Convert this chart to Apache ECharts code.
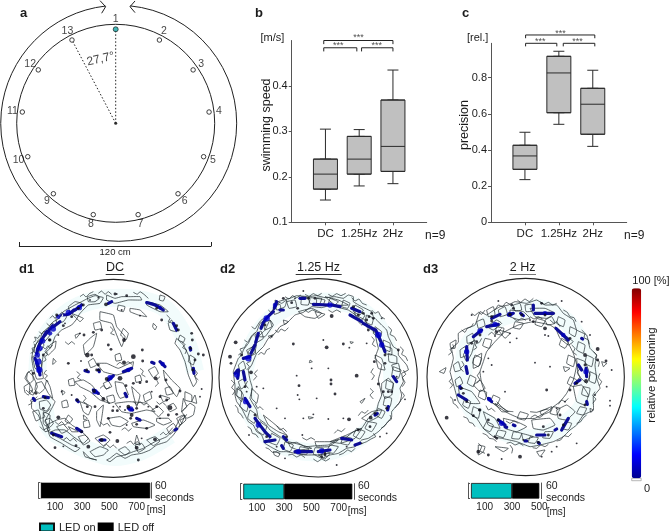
<!DOCTYPE html>
<html><head><meta charset="utf-8">
<style>html,body{margin:0;padding:0;background:#fff}#c{width:670px;height:531px}</style>
<script src="https://cdn.jsdelivr.net/npm/echarts@6/dist/echarts.min.js"></script>
</head><body><div id="c"></div>
<script>
// ---------- panel a ----------
const stimLabels = ['1','2','3','4','5','6','7','8','9','10','11','12','13'];
const stimAngles = [0,27.7,55.4,83.1,110.8,138.5,166.2,193.8,221.5,249.2,276.9,304.6,332.3];
const stimRadius = 57, labelRadius = 63, innerRadius = 60, outerRadius = 71.5;
const leftArrow = [[75.2,351.35],[71.1,353.6],[67.5,351.2]];
const rightArrow = [[74.8,7.6],[71,5.55],[67.8,8.4]];
const outerArc = [outerRadius,5.55,353.6];
// ---------- panels b, c ----------
const boxCats = ['','DC','1.25Hz','2Hz',''];
const speed = {DC:[0.149,0.173,0.206,0.239,0.305], f125:[0.18,0.206,0.239,0.289,0.304], f2:[0.185,0.212,0.267,0.369,0.435]};
const precision = {DC:[0.236,0.293,0.367,0.426,0.498], f125:[0.542,0.606,0.826,0.918,0.946], f2:[0.42,0.487,0.653,0.741,0.841]};
const speedTicks = [0.1,0.2,0.3,0.4];
const precisionTicks = [0,0.2,0.4,0.6,0.8];
const speedBrackets = [[0.95,3,0.5,0.492],[0.95,1.93,0.484,0.476],[2.07,3,0.484,0.476]];
const speedStars = [[1.98,0.506],[1.38,0.489],[2.52,0.489]];
const precisionBrackets = [[1.02,3.06,1.036,1.018],[1.02,1.94,0.99,0.973],[2.13,3.06,0.99,0.973]];
const precisionStars = [[2.05,1.045],[1.45,0.998],[2.55,0.998]];
// ---------- LED strips ----------
const ledOn = [0,300,300], ledOff = [800,500,200], stripMax = [800,800,500];
const stripTicks = [[100,300,500,700],[100,300,500,700],[100,300,500]];
// ---------- heat maps (tank positions) ----------
const disc1 = [340,370,297], disc2 = [309.5,368.5,297.5], disc3 = [287,366,296];
const d1Halo = [[112,350,118,290,140,240,180,190,240,150,320,130,430,135,500,165,560,260,585,350],[130,430,150,520,230,570,330,605,420,590,510,540]];
const d2Halo = [[85,380,100,300,150,210,220,155,310,140,410,150,490,215,525,310,530,400,500,480,430,550,340,590,240,585,160,545,105,470,85,380]];
const d3Halo = [[100,370,110,280,170,210,250,175,330,160,410,200,460,280,480,360,460,450,400,510,310,550,220,530,140,480,105,420,100,370]];
const d1Contours = [
[100,340,95,310,100,285,115,255,128,248,140,225,160,200,175,192,190,170,225,150,245,140,260,132,285,122,310,128,300,145,265,150,240,175,228,195,215,210,185,225,165,245,158,265,150,280,130,300,125,340,130,370,110,372,100,340],
[90,390,75,370,85,350,100,365,112,395,100,420,88,415,90,390],
[95,440,120,430,150,425,165,440,150,470,135,500,150,525,135,530,115,480,95,460,95,440],
[140,375,150,395,158,430,145,415,135,395,140,375],[160,310,168,320,158,328,160,310],
[140,510,170,495,195,490,215,510,240,525,265,550,250,565,220,545,195,525,165,525,150,535,180,550,215,570,240,580,225,590,185,565,150,545,140,510],
[270,590,300,575,325,585,310,600,285,605,270,590],[250,590,270,610,290,615,255,605,250,590],
[330,610,350,595,375,610,395,600,425,595,450,585,470,570,500,560,520,540,545,505,555,480,540,490,525,520,500,545,465,560,430,580,400,590,375,600,350,605,330,620,320,615,330,610],
[545,470,570,445,585,455,580,480,560,490,545,470],[470,490,505,490,515,500,490,510,470,500,470,490],
[395,505,430,495,465,510,440,520,400,515,395,505],[325,490,360,485,385,500,360,515,335,510,325,490],
[290,470,310,450,305,490,300,515,290,495,290,470],[240,440,275,455,265,480,250,470,240,440],
[225,380,250,375,275,390,295,415,310,430,330,445,300,435,270,410,240,395,225,380],
[345,380,370,385,385,420,360,430,350,410,345,380],[395,395,420,420,410,455,400,420,395,395],
[345,445,385,440,440,445,465,470,440,465,395,475,365,470,345,445],
[490,345,515,375,540,400,530,425,510,400,495,375,490,345],[480,420,510,430,490,440,480,420],
[530,250,550,270,565,300,575,340,590,380,580,395,565,360,555,320,540,285,525,265,530,250],
[515,195,530,230,510,225,505,205,515,195],[390,160,420,165,440,185,415,180,390,170,390,160],
[300,170,340,180,350,215,375,245,365,275,350,240,335,205,300,195,300,170],
[250,270,270,250,290,235,280,275,255,300,250,270],[290,325,320,325,355,340,400,320,395,345,350,360,310,350,290,325],
[215,175,250,190,240,200,215,175],[225,240,240,235,228,250,225,240],
[320,120,345,130,365,125,390,125,420,125,425,135,385,135,345,145,320,135,320,120],
[440,140,480,150,505,170,480,170,440,150,440,140],[460,205,470,215,465,225,458,215,460,205],
[575,440,585,420,590,445,575,440],[550,430,560,455,545,470,550,430],[185,405,195,412,188,420,185,405],
[130,470,150,480,145,520,130,505,130,470],[205,515,235,530,215,530,205,515],[410,540,420,570,405,565,410,540],[250,480,262,490,252,495,250,480],
[168,190,185,172,200,185,190,200,170,205,168,190],[205,155,225,140,245,145,232,165,210,172,205,155],[262,125,285,118,300,128,285,140,265,140,262,125],[125,235,145,218,150,240,135,258,122,255,125,235],[105,270,120,255,132,270,115,295,103,292,105,270],[135,290,150,270,168,258,165,280,145,300,135,290],[98,305,112,300,125,322,122,345,105,340,98,305],[82,355,95,345,100,375,90,385,80,372,82,355],[72,395,88,385,98,405,85,420,75,412,72,395],[108,385,125,380,135,400,118,415,105,405,108,385],[118,440,140,435,152,450,140,468,120,462,118,440],[98,470,115,465,122,490,108,498,98,470],[135,495,150,490,160,505,148,518,135,495],[205,480,218,492,208,505,195,498,205,480],[170,515,190,508,205,525,185,535,170,515],[235,545,255,540,270,558,250,570,235,545],[285,550,310,540,330,555,310,572,285,550],[355,585,375,575,390,590,375,600,355,585],[405,570,425,565,435,580,415,592,405,570],[440,555,465,545,480,558,460,572,440,555],[500,520,520,505,530,520,510,538,500,520],[530,490,550,480,558,495,540,510,530,490],[455,465,475,455,490,470,475,485,455,465],[500,455,520,445,530,460,510,470,500,455],[430,420,450,410,455,430,435,440,430,420],[495,400,510,395,520,415,500,420,495,400],[445,345,465,335,475,355,460,368,445,345],[405,365,420,360,425,378,408,382,405,365],[310,385,325,378,335,395,318,402,310,385],[265,320,280,310,290,330,272,338,265,320],[345,300,360,295,365,315,348,318,345,300],[370,220,385,235,378,255,362,240,370,220],[280,205,300,200,305,220,285,225,280,205],[355,150,375,155,370,170,352,165,355,150],[480,120,495,125,490,138,478,135,480,120],[540,240,555,250,550,262,535,255,540,240],[570,300,585,310,580,330,565,320,570,300],[555,410,575,420,575,440,555,435,555,410],[205,375,220,370,225,390,208,392,205,375],[185,440,200,435,205,455,188,458,185,440],[250,500,265,495,270,515,252,518,250,500],[320,425,340,420,345,440,325,445,320,425],
[150,190,158,182,165,190,172,180,180,186,188,176],[140,205,148,212,156,204,165,210,172,202],[118,230,126,238,132,228,140,236,148,226],[100,262,108,256,104,246,114,250,120,240],[92,295,100,290,96,280,106,276,102,266],[128,275,136,282,144,272,150,280,158,270],[130,320,138,315,134,305,142,300,140,290],[140,345,132,355,142,362,134,372,145,380],[78,405,86,412,94,405,100,415,108,408],[85,450,95,445,92,435,104,432,112,425],[125,490,135,485,130,475,142,470,150,460],[165,500,175,508,185,500,195,510,205,502],[190,555,200,548,210,558,220,550,230,560],[120,515,130,525,140,520,148,532,158,528],[310,575,320,568,330,578,340,570,350,580],[380,565,392,558,400,568,412,560,422,570],[480,540,490,532,498,540,508,530,518,518],[535,515,545,505,540,495,552,490,560,478],[240,125,250,118,258,126,268,116,280,110],[295,115,305,108,315,118,325,110,335,118],[400,112,412,118,420,110,432,118,445,130],[500,180,510,190,505,200,518,205,525,218],[545,260,555,268,548,278,560,285,555,297],[585,345,592,355,585,365,595,375],[350,330,360,322,372,330,384,320,396,328],[300,400,310,392,320,402,330,395],[400,440,410,448,420,440,432,450,442,442],[470,440,478,448,488,442,498,452],[300,500,310,510,322,505,330,515],[365,525,375,518,385,528,395,520],[230,350,240,358,232,368,244,375],[250,420,258,430,250,440,262,448],[420,340,430,348,425,358,436,365],[465,395,475,385,470,375,480,365],[195,260,205,268,215,260,225,268],[330,215,340,225,332,235,344,240]
];
const d1Strokes = [[245,150,225,165],[222,165,205,178,185,180],[180,200,160,215],[158,212,135,240],[140,230,120,265,110,295],[125,255,112,285],[105,310,115,335,120,360],[110,325,118,350],[440,143,465,150,490,165],[325,375,340,362],[370,350,395,340],[455,322,462,325],[480,320,495,335],[280,405,295,415],[375,415,380,425],[130,425,145,428],[100,430,104,436],[385,460,398,465],[230,520,245,530],[155,535,185,545],[300,555,315,555],[580,340,582,355],[570,278,572,285],[520,205,530,225],[325,145,335,140],[410,490,420,495],[525,525,530,522],[230,435,235,440],[255,347,265,350],[295,345,298,350]];
const d1Hot = [[205,172,6],[128,258,6],[115,320,7],[160,222,6],[330,368,6],[385,345,5],[285,410,6],[392,462,6],[238,158,6],[150,235,5],[120,280,6],[112,300,6],[118,345,7],[175,185,5],[480,158,4],[488,327,5]];
const d1Dots = [[345,117,3],[295,128,2],[235,160,3],[170,180,3],[190,212,3],[252,240,3],[280,232,3],[305,225,3],[372,255,4],[325,270,3],[333,283,3],[427,285,3],[400,305,5],[262,300,5],[243,318,2],[275,300,3],[295,330,3],[428,318,3],[372,322,4],[320,372,4],[360,370,5],[420,383,3],[440,380,3],[400,385,3],[467,370,4],[205,325,3],[260,345,3],[298,345,3],[378,392,3],[498,375,3],[540,408,3],[605,402,2],[600,425,2],[575,235,3],[577,255,3],[572,280,3],[595,297,3],[610,300,3],[585,315,3],[510,458,5],[480,425,3],[262,455,3],[285,455,3],[310,432,4],[340,455,2],[338,467,3],[352,467,3],[325,490,3],[375,465,2],[392,490,3],[410,508,3],[380,510,2],[505,480,3],[530,478,3],[465,553,4],[440,520,3],[330,532,3],[352,558,4],[265,575,4],[228,572,3],[190,574,2],[165,578,3],[410,578,4],[415,615,3],[425,550,2],[175,487,4],[130,460,3],[185,410,2],[215,420,2],[232,435,3],[350,117,2],[380,122,3],[318,148,4],[365,165,2],[485,195,3],[535,225,3],[130,300,3],[100,355,3],[420,182,2],[500,435,3],[455,410,2],[470,455,3],[385,455,4],[395,480,4],[305,555,4],[360,455,2],[410,460,3],[445,455,2],[480,490,2],[282,408,4],[290,345,3],[240,235,2],[150,255,3],[175,240,2],[215,185,3],[195,205,2],[135,428,3],[148,255,3],[108,415,3],[160,540,3],[245,530,3],[470,160,3],[530,212,3],[578,345,3],[250,150,3],[270,135,2]];
const d2Contours = [
[60,390,55,350,70,310,80,300,85,285,100,265,110,245,125,230,135,205,150,195,165,175,180,160,190,140,225,130,245,122,280,125,305,122,330,128,360,125,385,130,400,120,415,125,415,140,440,155,470,170,475,185,500,210,515,225,520,245,535,275,550,285,550,300,575,330,580,345,560,355,565,380,555,400,560,420,555,440,530,470,530,485,520,500,490,530,460,550,440,555,420,575,395,580,370,595,345,600,320,610,300,600,270,600,240,595,215,590,195,590,175,580,150,565,140,540,125,530,115,510,100,500,90,480,80,460,65,440,60,420,60,390],
[105,375,100,345,110,330,125,295,145,275,160,250,180,235,195,215,215,205,240,180,265,172,290,155,320,158,350,150,380,160,400,165,425,182,450,195,460,215,480,235,485,260,490,280,480,310,500,330,495,355,490,375,500,420,490,445,485,465,460,490,440,520,415,530,390,550,365,555,340,570,305,572,270,575,245,562,220,565,195,545,165,525,150,505,130,490,125,465,105,430,112,400,105,375],
[70,395,85,420,80,440,65,420,70,395],[110,400,130,420,125,445,110,430,110,400],[145,480,170,500,200,525,215,540,190,530,160,510,145,480],
[220,560,260,570,290,580,250,585,225,575,220,560],[300,560,345,560,370,555,340,575,305,575,300,560],[345,560,395,540,440,520,420,550,375,565,345,560],
[440,490,470,470,500,465,490,485,460,500,440,490],[500,385,520,370,535,385,530,420,510,430,500,405,500,385],[530,330,550,325,555,350,535,345,530,330],
[480,300,500,310,510,345,490,340,480,300],[500,270,530,280,530,300,510,295,500,270],[420,160,450,180,440,195,420,180,420,160],
[250,170,290,160,320,175,300,190,270,185,250,170],[130,245,150,225,165,195,175,210,150,245,130,245],[100,290,125,260,120,290,105,305,100,290],
[180,135,200,145,215,135,210,155,185,165,180,135],[330,125,370,135,400,150,360,150,330,125],[280,128,320,130,315,145,285,145,280,128],
[300,170,330,178,310,190,300,170],[205,195,220,200,208,208,205,195],[285,315,292,320,283,323,285,315],[280,485,295,488,282,492,280,485],[405,260,415,262,408,266,405,260],[435,440,450,430,440,445,435,440],[160,243,175,240,165,250,160,243],[175,590,195,595,190,605,178,600,175,590],[310,600,345,595,330,612,310,600],
[70,380,85,372,92,392,78,402,70,380],[70,330,85,318,92,340,75,348,70,330],[95,285,115,275,122,295,102,305,95,285],[120,240,138,228,145,250,125,262,120,240],[145,205,165,195,170,215,150,225,145,205],[175,155,195,148,198,170,178,178,175,155],[215,140,240,135,245,155,222,160,215,140],[260,125,285,130,280,150,258,148,260,125],[305,130,330,135,325,148,305,148,305,130],[345,130,370,140,360,150,340,148,345,130],[385,135,405,145,398,160,380,155,385,135],[420,150,445,165,435,180,415,170,420,150],[455,180,475,190,470,210,450,200,455,180],[480,215,500,230,495,250,475,235,480,215],[505,255,525,265,525,290,505,280,505,255],[520,295,545,305,545,325,522,320,520,295],[535,335,558,345,550,370,530,365,535,335],[515,375,535,385,530,405,512,400,515,375],[510,425,530,430,525,455,505,450,510,425],[490,460,510,470,500,490,482,480,490,460],[460,500,485,505,470,530,450,520,460,500],[425,520,450,530,435,552,415,542,425,520],[385,545,410,550,400,570,378,565,385,545],[345,570,370,575,355,595,335,590,345,570],[300,578,325,580,320,600,295,598,300,578],[255,575,280,580,275,598,250,595,255,575],[210,560,235,570,225,590,205,582,210,560],[170,535,195,550,185,570,160,560,170,535],[135,500,155,515,145,540,125,525,135,500],[105,465,125,480,118,505,98,490,105,465],[80,430,100,445,95,470,75,455,80,430],[65,400,80,410,78,430,62,420,65,400],
[70,300,80,292,75,282,88,278,95,265],[88,255,98,262,105,250,112,240,122,232],[110,215,120,222,128,210,136,198,146,190],[160,165,168,172,176,160,186,150,194,142],[210,125,222,132,232,122,245,128,258,120],[270,118,282,124,295,116,308,122,320,115],[340,118,352,124,365,116,378,122,392,115],[410,128,420,138,432,132,442,145,455,150],[470,165,480,175,490,170,498,185,510,192],[520,215,530,225,525,238,538,245,545,258],[555,275,565,285,560,298,572,305,578,318],[565,345,572,358,562,368,570,382,562,395],[560,410,568,422,558,435,550,448,540,458],[525,480,530,492,518,500,510,512,498,520],[475,535,482,545,468,552,455,560,442,565],[420,580,410,590,398,585,385,595,372,600],[345,610,332,618,320,612,308,620,295,612],[270,608,258,600,245,606,232,598,220,600],[195,598,185,590,172,592,162,582,152,578],[130,548,122,538,112,535,108,522,98,515],[85,490,78,478,70,472,68,460,60,450],[52,420,60,408,50,398,58,385,48,375],[95,345,103,335,95,325,108,318,102,308],[115,375,125,365,118,355,128,345],[130,300,138,292,148,298,155,285,165,280],[180,225,190,232,198,222,210,228,220,218],[270,165,280,172,292,165,305,170],[340,165,352,172,365,165,378,172],[430,200,440,210,450,205,458,220],[470,245,478,255,472,268,482,275],[475,340,468,352,478,362,470,375],[465,400,475,410,465,420,475,432],[460,465,450,475,440,470,430,482],[390,520,380,530,368,525,358,535],[300,555,288,548,275,555,262,548],[215,530,205,520,195,525,185,512],[145,465,135,455,128,460,120,445],[100,400,92,390,98,378]
];
const d2Strokes = [[60,355,70,345,68,370],[85,310,105,305],[108,295,120,270],[122,262,130,235],[138,220,150,195,175,170],[178,160,185,140],[255,130,270,130],[295,148,340,150],[350,150,375,155],[410,160,435,170],[405,180,440,200],[445,205,480,225],[482,225,500,265,510,290],[535,365,545,380],[520,455,518,465],[480,480,487,476],[380,550,410,555],[420,570,435,565],[310,590,345,585],[240,590,290,590],[205,580,200,572],[150,560,180,555],[120,490,150,530,165,545],[90,430,105,455],[85,350,90,375],[195,165,205,165],[205,545,215,555]];
const d2Hot = [[100,310,7],[155,190,7],[490,240,7],[345,150,6],[250,590,6],[130,510,6],[500,270,6],[180,150,5],[92,440,6],[65,360,6],[320,588,6]];
const d2Dots = [[62,262,4],[45,305,4],[48,325,3],[108,352,4],[265,108,2],[205,130,3],[230,143,3],[248,160,3],[300,130,3],[350,183,4],[385,267,3],[335,277,4],[325,255,2],[235,267,3],[403,278,2],[425,362,4],[245,362,2],[252,392,3],[348,375,3],[348,387,3],[360,417,3],[305,430,2],[253,433,2],[248,420,2],[402,493,4],[295,478,2],[265,490,2],[210,490,2],[470,175,3],[455,195,3],[460,225,3],[455,265,2],[500,190,2],[550,285,3],[510,325,3],[478,320,3],[490,387,3],[505,410,3],[520,410,3],[530,410,3],[570,433,2],[467,488,4],[495,545,2],[515,535,2],[430,525,3],[465,515,3],[385,490,2],[340,492,2],[125,395,2],[145,400,2],[102,540,2],[215,545,3],[262,540,2],[365,630,2],[210,610,2],[440,565,2],[320,605,3],[330,600,3],[185,460,2],[170,245,2],[290,340,2],[340,340,2],[415,155,3],[430,180,3],[475,190,3],[515,460,3],[480,475,3],[330,595,3],[280,130,3],[90,395,3],[95,410,2],[240,130,2],[445,175,3],[462,185,3],[510,300,3],[545,365,2],[120,480,3],[155,545,3],[185,575,2],[395,575,2],[80,300,3],[150,210,3]];
const d3Contours = [
[60,350,70,310,65,280,85,262,85,235,105,222,135,210,150,170,170,180,185,170,210,155,235,150,255,140,290,145,320,135,345,150,380,150,400,175,430,195,440,225,470,240,480,280,500,300,495,330,500,370,510,400,490,425,490,465,460,480,440,510,420,525,400,545,370,560,330,570,300,575,260,560,215,550,190,545,160,520,140,490,105,465,85,440,75,405,60,350],
[160,320,170,290,195,260,225,230,265,210,310,200,360,210,395,235,415,265,430,295,440,330,430,375,410,415,390,440,350,470,315,490,270,490,235,475,195,450,170,425,155,385,150,350,160,320],
[100,300,115,270,135,255,125,295,110,320,100,300],[130,310,155,295,150,330,130,340,130,310],[170,215,200,195,215,205,190,225,170,215],
[240,165,280,170,300,190,270,195,240,185,240,165],[300,160,345,160,375,175,350,190,315,185,300,160],[375,215,410,245,430,260,415,270,390,250,375,215],
[440,310,465,320,480,360,470,385,445,360,440,310],[430,395,455,390,475,420,465,450,440,440,430,395],[380,465,410,450,435,470,410,495,385,490,380,465],
[305,495,360,490,375,510,340,525,310,520,305,495],[220,490,260,500,290,515,260,530,225,520,220,490],[160,470,195,490,210,520,175,510,160,470],
[85,395,125,410,150,445,120,445,90,425,85,395],[130,390,150,375,165,400,150,410,130,390],[195,445,235,470,215,470,195,445],[330,470,365,455,360,470,335,480,330,470],
[145,570,165,575,160,590,145,600,145,570],[195,575,235,580,220,590,195,575],[320,590,345,585,330,605,320,590],[60,265,78,255,75,280,62,278,60,265],[28,350,48,338,42,355,28,350],[480,460,490,465,482,472,480,460],[515,320,530,325,520,335,515,320],[275,535,310,545,280,555,275,535],[205,225,240,235,225,250,205,225],[400,335,420,340,405,350,400,335],
[75,375,90,365,98,385,80,395,75,375],[70,330,85,320,92,345,75,350,70,330],[90,285,105,275,110,300,92,308,90,285],[110,245,128,235,132,258,112,265,110,245],[140,200,160,192,165,212,145,220,140,200],[170,165,190,155,195,180,175,185,170,165],[205,165,225,155,232,178,210,185,205,165],[250,150,270,145,275,165,255,168,250,150],[285,150,305,148,308,168,288,170,285,150],[345,195,365,185,375,205,352,210,345,195],[385,185,405,195,400,215,380,205,385,185],[420,215,440,225,435,245,418,235,420,215],[445,260,465,270,460,295,440,285,445,260],[470,300,490,310,485,335,465,325,470,300],[480,350,500,360,495,385,478,378,480,350],[460,395,480,400,475,425,455,418,460,395],[450,455,470,460,460,480,440,475,450,455],[405,500,425,505,415,525,395,520,405,500],[345,530,370,530,360,550,338,548,345,530],[300,545,325,548,315,565,295,562,300,545],[250,530,275,535,268,552,245,550,250,530],[205,525,228,530,220,548,198,540,205,525],[170,500,190,510,180,530,160,520,170,500],[130,455,150,465,145,490,125,480,130,455],[105,430,122,440,115,460,98,450,105,430],[120,360,138,370,130,395,112,385,120,360],[135,300,155,310,145,335,128,325,135,300],[165,250,185,255,178,280,158,272,165,250],[200,215,222,220,215,240,195,235,200,215],[255,200,280,205,270,222,250,218,255,200],[320,190,345,198,335,215,315,208,320,190],[395,250,415,262,405,280,388,270,395,250],[415,300,435,310,430,335,410,325,415,300],[420,365,440,375,430,395,412,385,420,365],[370,455,390,460,380,480,360,475,370,455],[270,470,295,478,285,495,262,490,270,470],[190,420,210,430,200,450,182,440,190,420],[150,405,170,412,165,435,145,425,150,405],
[55,300,65,292,60,282,72,278,68,268],[95,225,105,232,112,220,124,215,130,205],[125,175,135,182,145,172,155,178,165,165],[195,165,205,150,218,155,228,142,240,148],[262,135,272,142,285,132,298,140,310,130],[330,140,342,148,355,142,368,150,380,145],[400,165,412,172,420,185,432,188,438,200],[455,225,465,235,462,248,475,255,478,268],[490,290,500,300,495,312,508,320,505,335],[510,355,505,368,515,380,508,392],[495,410,488,422,498,432,488,445],[470,480,460,488,452,500,440,505],[425,535,415,545,402,542,392,555,380,558],[355,568,345,575,332,570,320,580,308,578],[280,572,268,565,255,570,242,562,230,565],[200,560,190,552,178,550,170,540,158,535],[135,515,128,505,118,502,112,490,100,485],[85,460,78,450,70,445,68,432,60,425],[60,400,68,390,58,380,65,370],[100,350,92,340,102,330,95,318],[130,285,140,278,135,268,148,262,155,250],[175,240,185,232,195,240,205,230,215,220],[250,190,262,198,275,190,288,196],[300,185,312,192,325,185,338,192],[360,195,372,205,380,200,390,215],[425,270,435,280,430,292,440,300],[450,340,442,352,450,365,440,378],[415,430,405,440,395,435,385,448],[340,480,328,488,315,480,302,488],[265,505,252,498,240,505,228,498],[195,470,185,460,175,465,168,452],[150,350,142,362,150,375,140,385],[300,470,320,472,340,465,355,462],[200,440,215,455,230,468,250,470],[145,565,155,575,150,588,165,595],[240,570,248,582,245,595]
];
const d3Strokes = [[110,275,112,315],[108,335,112,355],[130,245,155,225],[170,215,205,208],[185,190,210,178],[235,180,250,175],[272,175,280,182],[310,150,310,165],[315,175,370,175],[378,220,415,255],[445,330,455,345],[468,340,470,365],[435,385,450,375],[470,440,472,448],[415,490,395,525],[375,525,380,522],[320,540,345,540],[325,563,328,565],[285,558,290,558],[250,510,255,512],[225,515,230,517],[205,495,225,510],[175,430,185,440],[85,420,110,435],[90,395,92,400],[455,250,458,252]];
const d3Hot = [[110,290,6],[150,228,6],[195,208,6],[345,175,5],[400,240,5],[468,350,6],[215,505,6],[240,178,6],[178,433,5]];
const d3Dots = [[205,138,2],[335,145,3],[395,138,2],[125,180,2],[185,198,3],[245,150,3],[240,178,4],[310,200,3],[345,220,4],[240,235,2],[345,240,2],[355,243,2],[195,243,2],[480,240,2],[503,282,4],[465,300,4],[503,315,3],[528,318,3],[545,345,2],[468,378,4],[530,395,2],[495,420,2],[540,437,2],[540,452,2],[50,488,4],[75,435,2],[130,482,3],[148,465,3],[175,495,3],[200,550,3],[145,590,4],[175,600,3],[215,612,2],[270,605,4],[335,605,2],[365,590,2],[380,575,2],[440,565,2],[325,562,3],[195,545,3],[350,405,3],[315,323,2],[360,335,2],[175,310,2],[110,440,3],[420,405,3],[465,330,3],[160,350,2],[185,330,2],[240,262,2],[260,250,2],[225,410,2],[455,200,2],[390,480,3],[405,440,2],[140,260,3],[150,240,3],[300,195,2],[380,460,2],[465,450,3],[185,185,3],[275,180,3],[100,415,3],[150,465,3],[205,495,3],[340,515,3],[400,510,3],[250,160,3],[345,180,3],[420,250,3],[440,385,3],[355,540,3],[280,555,2],[200,230,3],[125,265,3],[95,400,3]];
// ---------- colour bar ----------
const heatStops = ['#00008f','#0000ff','#0080ff','#00ffff','#80ff80','#ffff00','#ff8000','#ff0000','#800000'];

const FONT = '"Liberation Sans",Arial,sans-serif';
const DARK = '#1c1c1c', AX = '#555';
const BLUE = '#0d0d96';
function pairs(f){const o=[];for(let i=0;i<f.length;i+=2)o.push([f[i],f[i+1]]);return o;}

const grid = [
  {left:291.7,top:40.5,width:135,height:181.8},      // b
  {left:491,top:43.3,width:135.7,height:179},        // c
  {left:19.3,top:236,width:191.7,height:10},         // 120 cm bar
  {left:0,top:255,width:220,height:276},             // d1
  {left:215,top:255,width:220,height:276},           // d2
  {left:430,top:255,width:240,height:276},           // d3
  {left:41.4,top:482.7,width:108.8,height:15.6},
  {left:243.3,top:483.7,width:109,height:15.6},
  {left:471,top:483,width:68.3,height:15.6}
];
const catAxis=(g,vis)=>({type:'category',gridIndex:g,data:boxCats,boundaryGap:false,show:vis,
  axisLine:{onZero:false,lineStyle:{color:AX,width:1}},
  axisTick:{length:3,lineStyle:{color:AX},interval:(i,v)=>v!==''},
  axisLabel:{interval:0,color:DARK,fontFamily:FONT,fontSize:11.5,margin:6}});
const hidVal=(g,mn,mx)=>({type:'value',gridIndex:g,min:mn,max:mx,show:false});
const xAxis=[
  catAxis(0,true),catAxis(0,false),hidVal(0,0,4),
  catAxis(1,true),catAxis(1,false),hidVal(1,0,4),
  {type:'value',gridIndex:2,min:0,max:120,axisLine:{show:true,lineStyle:{color:'#222'}},
   axisTick:{show:true,inside:true,length:4,customValues:[0,120],lineStyle:{color:'#222'}},axisLabel:{show:false},splitLine:{show:false},
   name:'120 cm',nameLocation:'middle',nameGap:1,nameTextStyle:{color:DARK,fontFamily:FONT,fontSize:9.5,verticalAlign:'top'}},
  hidVal(3,0,660),hidVal(4,0,660),hidVal(5,0,720),
];
[0,1,2].forEach(i=>xAxis.push({type:'value',gridIndex:6+i,min:0,max:stripMax[i],
  axisLine:{show:false},axisTick:{show:false},splitLine:{show:false},
  axisLabel:{customValues:stripTicks[i],color:DARK,fontFamily:FONT,fontSize:10,margin:4,hideOverlap:false}}));
const yAxis=[
  {type:'value',gridIndex:0,min:0.1,max:0.5,axisLine:{show:true,lineStyle:{color:AX}},splitLine:{show:false},
   axisTick:{show:true,length:3,customValues:speedTicks,lineStyle:{color:AX}},
   axisLabel:{customValues:speedTicks,formatter:v=>v.toFixed(1),color:DARK,fontFamily:FONT,fontSize:11,margin:4}},
  {type:'value',gridIndex:1,min:0,max:0.99,axisLine:{show:true,lineStyle:{color:AX}},splitLine:{show:false},
   axisTick:{show:true,length:3,customValues:precisionTicks,lineStyle:{color:AX}},
   axisLabel:{customValues:precisionTicks,formatter:v=>v===0?'0':v.toFixed(1),color:DARK,fontFamily:FONT,fontSize:11,margin:4}},
  {type:'value',gridIndex:2,min:0,max:1,show:false},
  {type:'value',gridIndex:3,min:0,max:828,inverse:true,show:false},
  {type:'value',gridIndex:4,min:0,max:828,inverse:true,show:false},
  {type:'value',gridIndex:5,min:0,max:828,inverse:true,show:false},
];
[0,1,2].forEach(i=>yAxis.push({type:'category',gridIndex:6+i,data:['60 s'],
  axisLine:{show:true,onZero:false,lineStyle:{color:AX}},offset:3,
  axisTick:{show:true,length:2,inside:true,lineStyle:{color:AX}},axisLabel:{show:false}}));
[0,1,2].forEach(i=>yAxis.push({type:'category',gridIndex:6+i,position:'right',data:['60 s'],
  axisLine:{show:true,onZero:false,lineStyle:{color:AX}},offset:1.5,axisTick:{show:false},axisLabel:{show:false}}));

const series=[];
// ---- panel a ----
const arcRender=(params,api)=>{
  const cs=params.coordSys,k=cs.r/76;
  const a=api.value(1),b=api.value(2);
  return {type:'arc',silent:true,shape:{cx:cs.cx,cy:cs.cy,r:api.value(0)*k,startAngle:(a-90)*Math.PI/180,endAngle:(b-90)*Math.PI/180,clockwise:true},
    style:{fill:null,stroke:'#222',lineWidth:1}};
};
series.push({type:'custom',name:'inner wall',coordinateSystem:'polar',polarIndex:0,renderItem:arcRender,data:[[innerRadius,0,360]],encode:{radius:0,angle:1},silent:true});
series.push({type:'custom',name:'outer wall',coordinateSystem:'polar',polarIndex:1,renderItem:arcRender,data:[outerArc],encode:{radius:0,angle:1},silent:true});
[leftArrow,rightArrow].forEach(d=>series.push({type:'line',coordinateSystem:'polar',polarIndex:1,data:d,symbol:'none',clip:false,silent:true,lineStyle:{color:'#222',width:1}}));
[0,stimAngles[12]].forEach(a=>series.push({type:'line',coordinateSystem:'polar',polarIndex:0,data:[[0,a],[stimRadius,a]],symbol:'none',silent:true,lineStyle:{color:'#222',width:1,type:[1.5,2]}}));
series.push({type:'scatter',coordinateSystem:'polar',polarIndex:0,data:[[0,0]],symbolSize:3,itemStyle:{color:'#000'},silent:true});
series.push({type:'scatter',name:'stimuli',coordinateSystem:'polar',polarIndex:0,data:stimAngles.map((a,i)=>({value:[stimRadius,a],symbolSize:i===0?5:4.5,itemStyle:i===0?{color:'#16a5a5',borderColor:'#111',borderWidth:.8}:{color:'#fff',borderColor:'#111',borderWidth:1}})),silent:true,z:3});
series.push({type:'scatter',coordinateSystem:'polar',polarIndex:0,data:stimAngles.map(a=>[labelRadius,a]),symbolSize:0,silent:true,z:4,
  label:{show:true,position:'inside',formatter:p=>stimLabels[p.dataIndex],color:'#111',fontFamily:FONT,fontSize:10.5}});
series.push({type:'scatter',coordinateSystem:'polar',polarIndex:0,data:[[39.9,346.8]],symbolSize:0,silent:true,
  label:{show:true,position:'inside',rotate:13,formatter:'27,7°',color:'#111',fontFamily:FONT,fontSize:12}});
// ---- box plots ----
function boxes(name,d,xN,xW,xV,yI,br,st){
  const rows=[['-','-','-','-','-'],d.DC,d.f125,d.f2,['-','-','-','-','-']];
  series.push({type:'boxplot',name,xAxisIndex:xN,yAxisIndex:yI,boxWidth:[11,11],data:rows,silent:true,z:2,
    itemStyle:{color:'#c0c0c0',borderColor:'#2a2a2a',borderWidth:1}});
  series.push({type:'boxplot',name:name+' box',xAxisIndex:xW,yAxisIndex:yI,boxWidth:[24,24],silent:true,z:3,
    data:rows.map(r=>r[0]==='-'?r:[r[1],r[1],r[2],r[3],r[3]]),
    itemStyle:{color:'#c0c0c0',borderColor:'#2a2a2a',borderWidth:1}});
  br.forEach(b=>series.push({type:'line',xAxisIndex:xV,yAxisIndex:yI,clip:false,symbol:'none',silent:true,
    data:[[b[0],b[3]],[b[0],b[2]],[b[1],b[2]],[b[1],b[3]]],lineStyle:{color:'#222',width:1}}));
  series.push({type:'scatter',xAxisIndex:xV,yAxisIndex:yI,clip:false,symbolSize:0,data:st,silent:true,
    label:{show:true,position:'inside',formatter:'***',color:DARK,fontFamily:FONT,fontSize:9}});
}
boxes('swimming speed',speed,0,1,2,0,speedBrackets,speedStars);
boxes('precision',precision,3,4,5,1,precisionBrackets,precisionStars);
series.push({type:'scatter',xAxisIndex:6,yAxisIndex:2,data:[],symbolSize:0});
// ---- heat maps ----
const hotIdx=[];
function discs(k,disc,halo,cont,strokes,hot,dots){
  const xi=7+k,yi=3+k;
  const ln=(list,style,z,smooth,name)=>{
    const coordsList=list.map(pairs);
    series.push({type:'custom',name,xAxisIndex:xi,yAxisIndex:yi,silent:true,z,clip:false,
      data:list.map((_,i)=>[i]),
      renderItem:(p,api)=>({type:'polyline',silent:true,
        shape:{points:coordsList[api.value(0)].map(c=>api.coord(c)),smooth},
        style:{fill:null,...style}})});
  };
  series.push({type:'custom',name:'tank',xAxisIndex:xi,yAxisIndex:yi,silent:true,z:1,data:[disc],encode:{x:0,y:1},clip:false,
    renderItem:(p,api)=>{const c=api.coord([api.value(0),api.value(1)]);const r=api.size([api.value(2),0])[0];
      return {type:'circle',shape:{cx:c[0],cy:c[1],r},style:{fill:'#fff',stroke:'#222',lineWidth:1.1}};}});
  ln(halo,{stroke:'#f2fcfc',lineWidth:18,lineJoin:'round'},2,0.3,'halo');
  ln(cont,{stroke:'#1a2428',lineWidth:.7},4,0.1,'contours');
  ln(strokes,{stroke:BLUE,lineWidth:3.2,lineCap:'round',lineJoin:'round'},5,0.3,'peaks');
  hotIdx.push(series.length);
  series.push({type:'scatter',name:'hot spots',xAxisIndex:xi,yAxisIndex:yi,silent:true,z:5,symbolSize:d=>d[2]*0.9,data:hot,encode:{x:0,y:1}});
  series.push({type:'scatter',name:'dots',xAxisIndex:xi,yAxisIndex:yi,silent:true,z:6,data:dots,symbolSize:d=>d[2]*0.95,itemStyle:{color:'#0a0a14'}});
}
discs(0,disc1,d1Halo,d1Contours,d1Strokes,d1Hot,d1Dots);
discs(1,disc2,d2Halo,d2Contours,d2Strokes,d2Hot,d2Dots);
discs(2,disc3,d3Halo,d3Contours,d3Strokes,d3Hot,d3Dots);
// ---- LED strips ----
[0,1,2].forEach(i=>{
  const base={type:'bar',xAxisIndex:10+i,yAxisIndex:6+i,stack:'led'+i,barWidth:'100%',silent:true};
  series.push({...base,name:'LED on',data:[ledOn[i]],itemStyle:{color:'#00bfbf',borderColor:'#111',borderWidth:.8}});
  series.push({...base,name:'LED off',data:[ledOff[i]],itemStyle:{color:'#000',borderColor:'#000',borderWidth:.8}});
});

const T=(x,y,text,o={})=>({type:'text',x,y,silent:true,rotation:o.rot||0,style:{text,fill:o.fill||DARK,font:`${o.bold?'bold ':''}${o.size||12}px ${FONT}`,align:o.align||'left',verticalAlign:'middle'}});
const U=(x1,x2,y,c)=>({type:'line',silent:true,shape:{x1,y1:y,x2,y2:y},style:{stroke:c||'#333',lineWidth:1}});
const graphic=[
  T(20,13,'a',{bold:1,size:13}),T(255,13,'b',{bold:1,size:13}),T(462,13,'c',{bold:1,size:13}),
  T(260.5,38,'[m/s]',{size:11}),T(467,38,'[rel.]',{size:11}),
  T(267,125,'swimming speed',{rot:Math.PI/2,align:'center',size:12.5}),
  T(465,125,'precision',{rot:Math.PI/2,align:'center',size:12.5}),
  T(425,236,'n=9',{size:12}),T(624,236,'n=9',{size:12}),
  T(19,269,'d1',{bold:1,size:13}),T(220,269,'d2',{bold:1,size:13}),T(423,269,'d3',{bold:1,size:13}),
  T(115,268,'DC',{align:'center',size:12.5}),U(105.7,124.3,274.5),
  T(318.5,268,'1.25 Hz',{align:'center',size:12.5}),U(295.7,341.7,274.5),
  T(522.7,268,'2 Hz',{align:'center',size:12.5}),U(509.3,536,274.5,'#777'),
  T(155,486,'60',{size:10.5}),T(155,498,'seconds',{size:10.5}),T(146.7,510,'[ms]',{size:10}),
  T(358,486,'60',{size:10.5}),T(358,498,'seconds',{size:10.5}),T(347.7,511,'[ms]',{size:10}),
  T(546,486,'60',{size:10.5}),T(546,498,'seconds',{size:10.5}),T(546.7,512,'[ms]',{size:10}),
  T(651,281,'100 [%]',{align:'center',size:11}),T(647,489,'0',{align:'center',size:11}),
  T(652,375,'relative positioning',{rot:Math.PI/2,align:'center',size:11.5}),
  {type:'rect',silent:true,shape:{x:631.7,y:478.3,width:9.5,height:2.4},style:{fill:'#fff',stroke:'#999',lineWidth:.7}}
];

const chart=echarts.init(document.getElementById('c'),null,{renderer:'canvas'});
chart.setOption({
  animation:false,backgroundColor:'#fff',
  textStyle:{fontFamily:FONT},
  tooltip:{show:false},
  grid,xAxis,yAxis,series,graphic,
  polar:[{center:[115.7,123.3],radius:125.4},{center:[118.7,123.3],radius:125.4}],
  radiusAxis:[{polarIndex:0,min:0,max:76,show:false},{polarIndex:1,min:0,max:76,show:false}],
  angleAxis:[{polarIndex:0,type:'value',min:0,max:360,startAngle:90,clockwise:true,show:false},{polarIndex:1,type:'value',min:0,max:360,startAngle:90,clockwise:true,show:false}],
  legend:{data:[{name:'LED on',icon:'rect'},{name:'LED off',icon:'rect'}],left:39,top:522,itemWidth:14,itemHeight:8,itemGap:2,selectedMode:false,padding:0,
    textStyle:{color:DARK,fontFamily:FONT,fontSize:11}},
  visualMap:{type:'continuous',min:0,max:100,seriesIndex:hotIdx,dimension:2,calculable:false,realtime:false,left:631.7,top:288.3,itemWidth:9.5,itemHeight:190,text:null,padding:0,inRange:{color:heatStops},hoverLink:false,silent:true}
});
</script></body></html>
